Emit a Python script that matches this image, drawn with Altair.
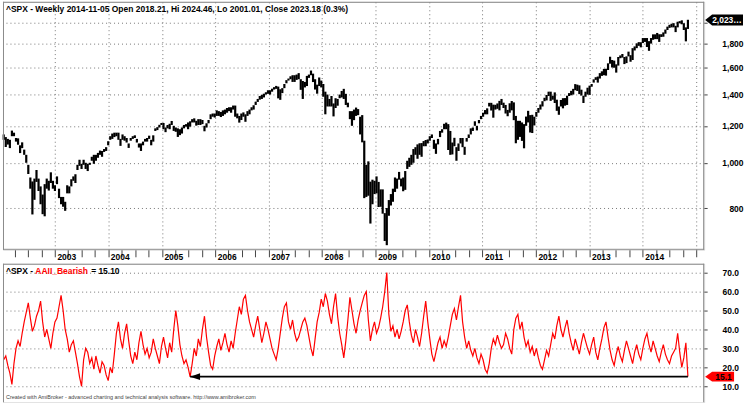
import altair as alt
import pandas as pd

FONT = "Liberation Sans"

# ---- S&P 500 bi-weekly bar ranges (low / high) ----
spx_low = [
    1120, 1081, 1094, 1075, 1140, 1140, 1110, 1093, 1049, 1075, 1040, 1000, 946, 880, 775, 833, 910, 870, 815, 776, 768, 880, 872, 905, 880,
    870, 900, 840, 815, 805, 789, 860, 860, 890, 915, 905, 965, 985, 970, 990, 970, 960, 990, 1010, 995, 1010, 1025, 1040, 1030, 1055, 1060, 1090,
    1120, 1125, 1135, 1140, 1120, 1087, 1120, 1115, 1105, 1076, 1115, 1125, 1130, 1105, 1078, 1060, 1090, 1110, 1110, 1125, 1090, 1110, 1170, 1175, 1190, 1205,
    1180, 1163, 1185, 1180, 1205, 1170, 1165, 1136, 1146, 1155, 1185, 1195, 1180, 1195, 1220, 1220, 1201, 1205, 1205, 1210, 1168, 1190, 1215, 1240, 1255, 1250,
    1260, 1260, 1253, 1260, 1270, 1280, 1290, 1280, 1300, 1255, 1245, 1219, 1235, 1255, 1224, 1260, 1270, 1295, 1300, 1330, 1350, 1365, 1370, 1380, 1400, 1405,
    1400, 1420, 1435, 1440, 1374, 1364, 1410, 1445, 1480, 1500, 1510, 1490, 1490, 1505, 1510, 1433, 1370, 1450, 1460, 1520, 1540, 1489, 1435, 1406, 1460, 1450,
    1385, 1270, 1320, 1320, 1320, 1257, 1310, 1325, 1375, 1380, 1370, 1330, 1315, 1240, 1200, 1234, 1260, 1265, 1150, 1106, 840, 845, 850, 741, 815, 857,
    860, 804, 805, 778, 680, 666, 770, 810, 825, 866, 880, 920, 890, 869, 875, 970, 980, 990, 1000, 1040, 1020, 1040, 1030, 1085, 1085, 1100,
    1115, 1130, 1071, 1045, 1095, 1135, 1160, 1180, 1180, 1065, 1040, 1042, 1085, 1010, 1060, 1100, 1080, 1040, 1110, 1130, 1150, 1170, 1200, 1173, 1215, 1240,
    1255, 1270, 1270, 1320, 1294, 1249, 1300, 1305, 1295, 1330, 1310, 1275, 1258, 1280, 1295, 1234, 1101, 1120, 1136, 1114, 1074, 1200, 1220, 1161, 1158, 1202,
    1255, 1280, 1300, 1320, 1355, 1360, 1390, 1357, 1365, 1343, 1292, 1267, 1320, 1308, 1325, 1330, 1390, 1395, 1400, 1430, 1425, 1403, 1393, 1343, 1385, 1400,
    1398, 1455, 1485, 1505, 1485, 1515, 1535, 1540, 1537, 1580, 1630, 1600, 1598, 1560, 1615, 1675, 1680, 1627, 1635, 1690, 1646, 1660, 1740, 1760, 1780, 1767,
    1805, 1815, 1770, 1737, 1800, 1834, 1840, 1840, 1815, 1860, 1862, 1890, 1925, 1945, 1950, 1950, 1905, 1950, 1990, 1980, 1925, 1820, 1935,
]
spx_high = [
    1150, 1135, 1125, 1120, 1172, 1160, 1130, 1128, 1090, 1106, 1067, 1040, 990, 930, 912, 925, 965, 925, 890, 855, 900, 925, 915, 954, 915,
    895, 935, 880, 845, 845, 825, 895, 890, 922, 935, 945, 990, 1015, 995, 1015, 1000, 995, 1000, 1030, 1040, 1040, 1050, 1062, 1060, 1070, 1080, 1112,
    1140, 1155, 1160, 1160, 1160, 1125, 1150, 1140, 1130, 1100, 1130, 1140, 1145, 1125, 1100, 1100, 1110, 1125, 1130, 1143, 1120, 1145, 1185, 1192, 1206, 1217,
    1217, 1190, 1205, 1212, 1229, 1200, 1190, 1185, 1180, 1190, 1205, 1210, 1220, 1227, 1240, 1245, 1230, 1240, 1240, 1235, 1200, 1215, 1235, 1270, 1275, 1275,
    1295, 1290, 1285, 1295, 1300, 1310, 1315, 1315, 1326, 1326, 1275, 1260, 1275, 1282, 1270, 1290, 1300, 1315, 1328, 1352, 1370, 1390, 1398, 1406, 1416, 1430,
    1430, 1441, 1452, 1461, 1456, 1437, 1445, 1475, 1503, 1515, 1532, 1540, 1540, 1545, 1556, 1510, 1497, 1490, 1535, 1545, 1576, 1552, 1510, 1470, 1523, 1500,
    1475, 1420, 1400, 1370, 1390, 1340, 1375, 1370, 1400, 1425, 1440, 1405, 1345, 1290, 1290, 1300, 1313, 1303, 1255, 1265, 1115, 990, 1007, 911, 920, 915,
    935, 910, 877, 877, 780, 800, 832, 857, 880, 930, 925, 956, 925, 930, 960, 1010, 1025, 1040, 1070, 1080, 1095, 1101, 1102, 1113, 1119, 1122,
    1140, 1150, 1120, 1100, 1125, 1170, 1180, 1212, 1219, 1210, 1170, 1105, 1131, 1080, 1100, 1130, 1130, 1082, 1130, 1150, 1185, 1190, 1227, 1200, 1235, 1260,
    1280, 1297, 1308, 1344, 1344, 1332, 1331, 1340, 1357, 1370, 1345, 1330, 1298, 1341, 1356, 1347, 1260, 1230, 1230, 1220, 1210, 1256, 1292, 1265, 1267, 1255,
    1285, 1310, 1333, 1355, 1378, 1397, 1420, 1420, 1392, 1415, 1365, 1320, 1363, 1375, 1376, 1392, 1410, 1426, 1440, 1474, 1470, 1465, 1434, 1392, 1420, 1448,
    1463, 1475, 1509, 1525, 1530, 1556, 1570, 1589, 1590, 1633, 1687, 1660, 1655, 1625, 1685, 1698, 1710, 1685, 1690, 1730, 1700, 1760, 1775, 1802, 1813, 1812,
    1850, 1850, 1850, 1822, 1850, 1884, 1884, 1897, 1885, 1885, 1902, 1929, 1957, 1975, 1985, 1991, 1965, 2005, 2011, 2019, 1990, 1950, 2024.46,
]

# ---- AAII bearish % (bi-weekly readings) ----
aaii_bearish = [
    24, 26, 21, 17, 11, 22, 30, 34, 31, 38, 44, 49, 54, 46, 39, 42, 47, 50, 55, 44, 36, 40, 35, 30,
    38, 44, 46, 52, 58, 50, 40, 35, 28, 32, 34, 28, 22, 15, 10, 24, 30, 28, 22, 25, 19, 26, 21, 17, 23,
    21, 16, 13, 20, 17, 27, 38, 44, 35, 30, 38, 43, 34, 26, 22, 28, 24, 33, 39, 32, 27, 30, 25, 28,
    35, 30, 26, 22, 31, 36, 30, 25, 33, 28, 40, 50, 42, 32, 26, 22, 24, 20, 15, 22, 30, 26, 35, 31,
    40, 47, 36, 28, 21, 19, 26, 31, 35, 29, 33, 38, 32, 28, 34, 30, 38, 45, 52, 48, 56, 58, 50, 44, 40,
    36, 42, 47, 40, 33, 38, 44, 40, 35, 30, 27, 24, 30, 38, 46, 52, 54, 44, 40, 45, 38, 34, 36, 40,
    44, 46, 42, 36, 30, 26, 35, 44, 49, 56, 52, 59, 55, 48, 43, 52, 59, 47, 38, 32, 25, 34, 45, 57,
    50, 43, 38, 45, 50, 54, 58, 60, 45, 34, 40, 44, 38, 41, 46, 52, 60, 70, 48, 39, 42, 36, 40, 35, 39,
    44, 50, 53, 44, 37, 33, 40, 36, 31, 38, 47, 55, 44, 35, 27, 23, 28, 33, 36, 30, 34, 31, 36, 42,
    48, 51, 45, 52, 58, 44, 36, 30, 34, 29, 26, 30, 25, 22, 27, 24, 19, 17, 22, 30, 35, 32, 37, 33, 30,
    32, 38, 35, 30, 27, 40, 46, 48, 40, 44, 36, 31, 34, 28, 31, 26, 30, 25, 21, 19, 24, 29, 26, 32,
    38, 35, 42, 47, 40, 36, 41, 45, 38, 33, 29, 35, 31, 27, 33, 38, 34, 30, 27, 32, 36, 28, 24, 30,
    35, 41, 44, 36, 29, 24, 21, 27, 31, 26, 23, 29, 34, 30, 26, 22, 28, 32, 27, 24, 30, 35, 38, 32, 28,
    34, 30, 26, 23, 28, 32, 27, 24, 22, 26, 28, 30, 38, 28, 20, 25, 33, 15.1,
]

last_date = "2014-11-05"
last_open, last_high, last_low, last_close = 2018.21, 2024.46, 2001.01, 2023.18
last_change_pct = 0.3

top_ticks = [800, 1000, 1200, 1400, 1600, 1800, 2000]
bottom_ticks = [10, 20, 30, 40, 50, 60, 70]

W, H_TOP, H_BOT, GAP = 704, 249, 139, 14

spx = pd.DataFrame({
    "date": pd.date_range(end=last_date, periods=len(spx_low), freq="14D"),
    "low": spx_low, "high": spx_high,
})
bear = pd.DataFrame({
    "date": pd.date_range(end=last_date, periods=len(aaii_bearish), freq="14D"),
    "bear": aaii_bearish,
})
cur = aaii_bearish[-1]
j = max(i for i in range(len(aaii_bearish) - 1) if aaii_bearish[i] <= cur + 0.5)
arrow_df = pd.DataFrame({"d0": [bear["date"].iloc[j]], "d1": [bear["date"].iloc[-1]], "v": [cur]})

xs = alt.Scale(domain=[alt.DateTime(year=2002, month=1, date=11), alt.DateTime(year=2015, month=2, date=24)])
qvals = [alt.DateTime(year=y, month=m, date=1) for y in range(2002, 2016) for m in (1, 4, 7, 10)
         if (2002, 4) <= (y, m) <= (2015, 1)]

lab = dict(labelFont=FONT, labelFontSize=8.5, labelFontWeight="bold", labelColor="black")
grid = dict(grid=True, gridDash=[1, 3], gridColor="#777", gridWidth=1)

xax_top = alt.Axis(
    values=qvals, title=None, domain=False, tickSize=7, tickColor="#444",
    labelExpr="month(datum.value) == 0 && year(datum.value) < 2015 ? timeFormat(datum.value, '%Y') : ''",
    labelAlign="left", labelBaseline="top", labelPadding=-4, labelOffset=2,
    labelOverlap=False, labelFlush=False,
    gridOpacity={"condition": {"test": "month(datum.value) == 0", "value": 1}, "value": 0},
    **grid, **lab)
ys_top = alt.Scale(type="log", domain=[651, 2212], nice=False)
yax_top = alt.Axis(orient="right", values=top_ticks, title=None, domain=False,
                   labelExpr="datum.value >= 2000 ? '' : format(datum.value, ',')",
                   tickSize=3, tickColor="#444", labelPadding=36, labelAlign="right",
                   labelBaseline="middle", **grid, **lab)

ys_bot = alt.Scale(domain=[1.6, 74.7], nice=False, zero=False)
yax_bot = alt.Axis(orient="right", values=bottom_ticks, format=".1f", title=None, domain=False,
                   tickSize=3, tickColor="#444", labelPadding=15, labelAlign="left",
                   labelBaseline="middle", **grid, **lab)

one = pd.DataFrame({"a": [0]})


def border(x=None, x2=None, y=None, y2=None):
    enc = {}
    for k, v in (("x", x), ("x2", x2), ("y", y), ("y2", y2)):
        if v is not None:
            enc[k] = alt.value(v)
    return alt.Chart(one).mark_rule(color="#8a8a8a", strokeWidth=1).encode(**enc)


def text(s, x, y, color="black", size=8.5, weight="bold"):
    return alt.Chart(pd.DataFrame({"t": [s]})).mark_text(
        align="left", baseline="middle", font=FONT, fontSize=size, fontWeight=weight, color=color
    ).encode(text="t:N", x=alt.value(x), y=alt.value(y))


# ---- top panel ----
bars = alt.Chart(spx).mark_rule(color="black", strokeWidth=2.2).encode(
    x=alt.X("date:T", scale=xs, axis=xax_top),
    y=alt.Y("low:Q", scale=ys_top, axis=yax_top),
    y2="high:Q",
)
close_df = pd.DataFrame({"v": [last_close], "t": [f"{last_close:,.2f}"]})
close_tag = alt.Chart(close_df).mark_point(
    shape="M -1 0 L -0.63 -0.29 L 1 -0.29 L 1 0.29 L -0.63 0.29 Z",
    size=1444, filled=True, color="black", opacity=1, strokeWidth=0,
).encode(x=alt.value(724), y=alt.Y("v:Q", scale=ys_top, axis=yax_top))
close_txt = alt.Chart(close_df).mark_text(
    align="left", baseline="middle", font=FONT, fontSize=8.5, fontWeight="bold", color="white",
    limit=31, ellipsis="",
).encode(x=alt.value(712), y=alt.Y("v:Q", scale=ys_top, axis=yax_top), text="t:N")

title_top = (f"^SPX - Weekly {last_date} Open {last_open:.2f}, Hi {last_high:.2f}, "
             f"Lo {last_low:.2f}, Close {last_close:.2f} ({last_change_pct:.1f}%)")

top = alt.layer(
    bars, close_tag, close_txt, text(title_top, 3, 7),
    border(x=0.5, y=0, y2=H_TOP), border(x=W - 0.5, y=0, y2=H_TOP),
    border(y=H_TOP - 0.5, x=0, x2=W), border(y=0.5, x=0, x2=W),
).properties(width=W, height=H_TOP)

# ---- bottom panel ----
line = alt.Chart(bear).mark_line(color="#ff0000", strokeWidth=1.2).encode(
    x=alt.X("date:T", scale=xs, axis=None),
    y=alt.Y("bear:Q", scale=ys_bot, axis=yax_bot),
)
arrow = alt.Chart(arrow_df).mark_rule(color="black", strokeWidth=1.6).encode(
    x=alt.X("d0:T", scale=xs, axis=None), x2="d1:T",
    y=alt.Y("v:Q", scale=ys_bot, axis=yax_bot),
)
head = alt.Chart(arrow_df).mark_point(
    shape="M -1 0 L 1 -0.7 L 1 0.7 Z", size=100, filled=True, color="black", opacity=1, xOffset=5,
).encode(x=alt.X("d0:T", scale=xs, axis=None), y=alt.Y("v:Q", scale=ys_bot, axis=yax_bot))

cur_df = pd.DataFrame({"v": [cur], "t": [f"{cur:.1f}"]})
cur_tag = alt.Chart(cur_df).mark_point(
    shape="M -1 0 L -0.52 -0.33 L 1 -0.33 L 1 0.33 L -0.52 0.33 Z",
    size=841, filled=True, color="#ff0000", opacity=1, strokeWidth=0,
).encode(x=alt.value(719.5), y=alt.Y("v:Q", scale=ys_bot, axis=yax_bot))
cur_txt = alt.Chart(cur_df).mark_text(
    align="center", baseline="middle", font=FONT, fontSize=8.5, fontWeight="bold", color="black",
).encode(x=alt.value(723.5), y=alt.Y("v:Q", scale=ys_bot, axis=yax_bot), text="t:N")

bottom = alt.layer(
    line, arrow, head, cur_tag, cur_txt,
    text("^SPX -", 3, 7), text("AAII_Bearish", 32.5, 7, color="#ff0000"), text(f"= {cur:.2f}", 88.5, 7),
    text("Created with AmiBroker - advanced charting and technical analysis software. http://www.amibroker.com",
         3, H_BOT - 5, color="#444", size=5.5, weight="normal"),
    border(x=0.5, y=0, y2=H_BOT), border(x=W - 0.5, y=0, y2=H_BOT), border(y=0.5, x=0, x2=W),
).properties(width=W, height=H_BOT)

chart = alt.vconcat(top, bottom, spacing=GAP, bounds="flush", padding=0).configure_view(stroke=None).configure(
    background="white")

chart.save("out.html", embed_options={"renderer": "svg", "actions": False})
